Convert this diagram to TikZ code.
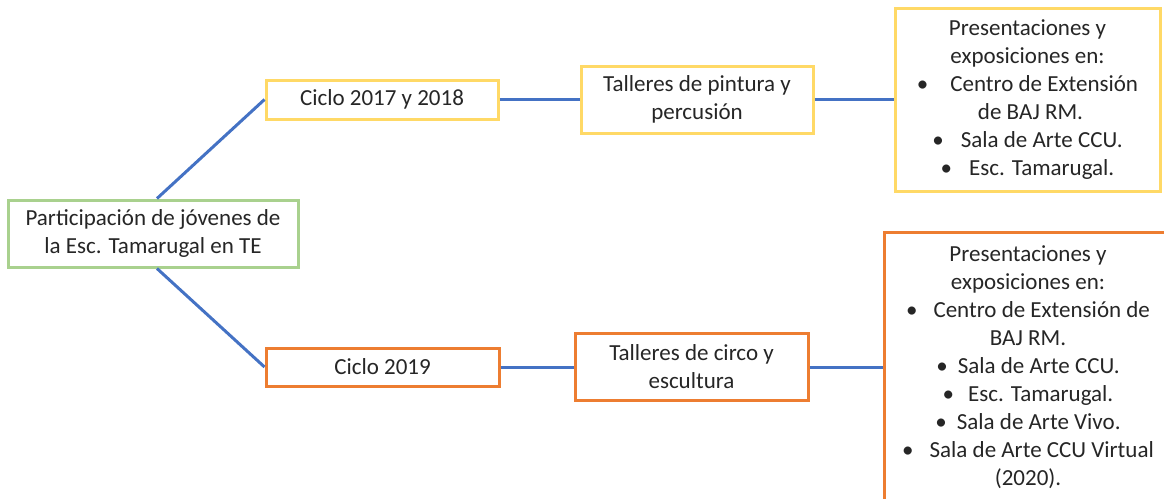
\documentclass[tikz,border=0pt]{standalone}
\usepackage{fontspec}
\setmainfont{Carlito}
\definecolor{cyellow}{HTML}{FFD966}
\definecolor{cgreen}{HTML}{A9D18E}
\definecolor{corange}{HTML}{ED7D31}
\definecolor{cblue}{HTML}{4472C4}
\tikzset{
  box/.style={draw, line width=3pt, fill=white, inner sep=0pt, align=center,
    font=\fontsize{23}{28}\selectfont, text=black!85},
  ybox/.style={box, draw=cyellow},
  gbox/.style={box, draw=cgreen},
  obox/.style={box, draw=corange},
  link/.style={draw=cblue, line width=3pt}
}
\begin{document}
\begin{tikzpicture}[x=1pt,y=-1pt]
\useasboundingbox (0,0) rectangle (1164,498);
\clip (0,0) rectangle (1164,498);
\node[gbox, minimum width=290pt, minimum height=67pt] (root) at (153,233.5)
  {Participación de jóvenes de\\la Esc. Tamarugal en TE};
\node[ybox, minimum width=232pt, minimum height=39pt] (c1) at (382,99.5)
  {Ciclo 2017 y 2018};
\node[ybox, minimum width=232pt, minimum height=67pt] (t1) at (697,99.5)
  {Talleres de pintura y\\percusión};
\node[ybox, minimum width=265pt, minimum height=183pt] (b1) at (1027.5,99.5)
  {Presentaciones y\\exposiciones en:\\
   \textbullet\hspace{22pt}Centro de Extensión\\
   \hspace{6pt}de BAJ RM.\\
   \textbullet\hspace{17pt}Sala de Arte CCU.\\
   \textbullet\hspace{17pt}Esc. Tamarugal.};
\node[obox, minimum width=233pt, minimum height=38pt] (c2) at (382.5,367)
  {Ciclo 2019};
\node[obox, minimum width=233pt, minimum height=67pt] (t2) at (691.5,367)
  {Talleres de circo y\\escultura};
\node[obox, minimum width=288pt, minimum height=270pt] (b2) at (1028,367)
  {Presentaciones y\\exposiciones en:\\
   \textbullet\hspace{16pt}Centro de Extensión de\\
   BAJ RM.\\
   \textbullet\hspace{10pt}Sala de Arte CCU.\\
   \textbullet\hspace{14pt}Esc. Tamarugal.\\
   \textbullet\hspace{10pt}Sala de Arte Vivo.\\
   \textbullet\hspace{16pt}Sala de Arte CCU Virtual\\
   (2020).};
\draw[link] ([xshift=4pt]root.north) -- (c1.west);
\draw[link] ([xshift=4pt]root.south) -- (c2.west);
\draw[link] (c1.east) -- (t1.west);
\draw[link] (t1.east) -- (b1.west);
\draw[link] (c2.east) -- (t2.west);
\draw[link] (t2.east) -- (b2.west);
\end{tikzpicture}
\end{document}
